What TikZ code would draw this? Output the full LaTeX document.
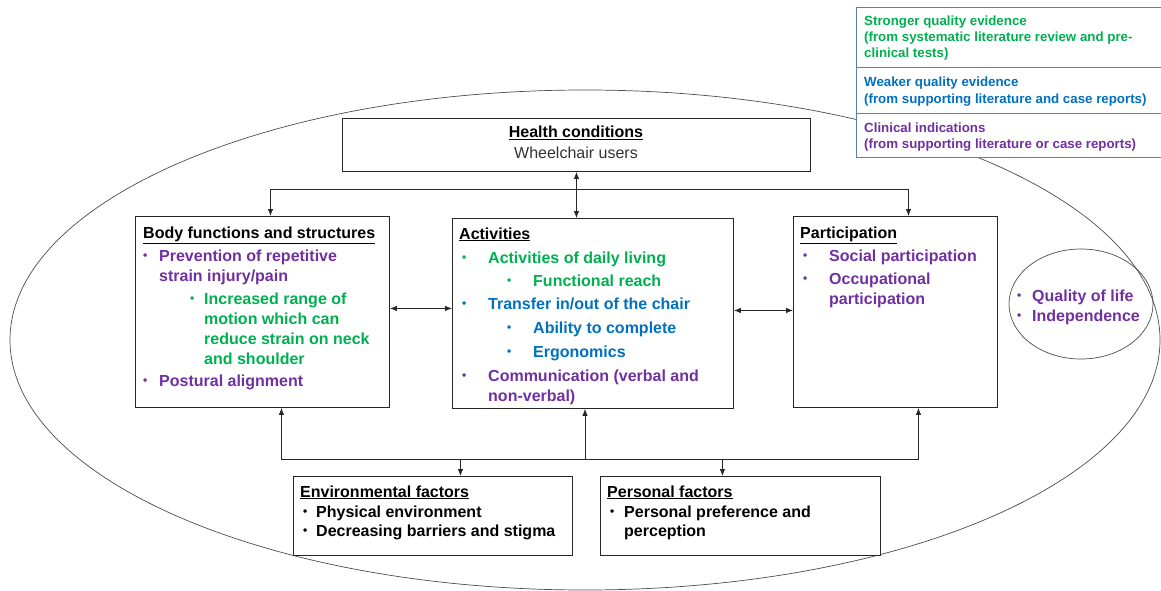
\documentclass[tikz,border=0pt]{standalone}
\usepackage{fontspec}
\setmainfont{Liberation Sans}
\usepackage{tikz}
\usetikzlibrary{arrows.meta,shapes,positioning}
\definecolor{sgreen}{RGB}{0,176,80}
\definecolor{wblue}{RGB}{0,112,192}
\definecolor{cpurple}{RGB}{112,48,160}
\definecolor{lframe}{RGB}{84,130,184}
\tikzset{box/.style={draw=black!85, line width=0.9pt, fill=white, anchor=north west, inner sep=0},
  t/.style={anchor=base west, inner sep=0, font=\fontsize{16}{19}\selectfont\bfseries},
  bul/.style={anchor=base west, inner sep=0, yshift=1.5pt, font=\fontsize{12}{14}\selectfont\bfseries},
  lg/.style={draw=lframe, line width=0.9pt, fill=white, anchor=north west, inner sep=0, minimum width=312pt},
  lt/.style={anchor=base west, inner sep=0, font=\fontsize{13.3}{16}\selectfont\bfseries},
  ar/.style={draw=black!85, line width=0.8pt, -{Latex[length=7pt,width=5.5pt]}},
  dar/.style={ar, {Latex[length=7pt,width=5.5pt]}-{Latex[length=7pt,width=5.5pt]}}}

\begin{document}
\begin{tikzpicture}[x=1pt,y=-1pt]
    \useasboundingbox (0,0) rectangle (1161,591);
    \node[draw=black!70, line width=0.7pt, ellipse, minimum width=1150pt, minimum height=500pt] (icf) at (585,340) {};

    % legend
    \node[lg, minimum height=60pt] (lg1) at (856,7) {};
    \node[lg, minimum height=46pt] (lg2) at (856,67) {};
    \node[lg, minimum height=44pt] (lg3) at (856,113) {};
    \node[lt, sgreen] (l1) at (864,26) {Stronger quality evidence};
    \node[lt, sgreen] (l2) at (864,42) {(from systematic literature review and pre-};
    \node[lt, sgreen] (l3) at (864,58) {clinical tests)};
    \node[lt, wblue] (l4) at (864,87) {Weaker quality evidence};
    \node[lt, wblue] (l5) at (864,103) {(from supporting literature and case reports)};
    \node[lt, cpurple] (l6) at (864,132) {Clinical indications};
    \node[lt, cpurple] (l7) at (864,148) {(from supporting literature or case reports)};

    % boxes
    \node[box, minimum width=468pt, minimum height=53pt] (health) at (342,118) {};
    \node[box, minimum width=254pt, minimum height=191pt] (body) at (135,216) {};
    \node[box, minimum width=281pt, minimum height=190pt] (act) at (452,218) {};
    \node[box, minimum width=204pt, minimum height=191pt] (part) at (793,216) {};
    \node[box, minimum width=279pt, minimum height=79pt] (env) at (293,476) {};
    \node[box, minimum width=280pt, minimum height=79pt] (pers) at (600,476) {};
    \node[draw=black!70, line width=0.7pt, ellipse, minimum width=144pt, minimum height=110pt] (qol) at (1081,304) {};

    \node[t, anchor=base] (hc) at (576,138) {\underline{Health conditions}};
    \node[t, anchor=base, font=\fontsize{16}{19}\selectfont, black!80] (wu) at (576,158) {Wheelchair users};

    % body functions
    \node[t] (bt) at (143,238) {\underline{Body functions and structures}};
    \foreach \y in {261,386}
      \node[bul, cpurple] (bb\y) at (143,\y) {•};
    \node[bul, sgreen] (bs) at (190,304) {•};
    \node[t, cpurple] (b1) at (159,261) {Prevention of repetitive};
    \node[t, cpurple] (b2) at (159,281) {strain injury/pain};
    \node[t, sgreen] (b3) at (204,304) {Increased range of};
    \node[t, sgreen] (b4) at (204,324) {motion which can};
    \node[t, sgreen] (b5) at (204,344) {reduce strain on neck};
    \node[t, sgreen] (b6) at (204,364) {and shoulder};
    \node[t, cpurple] (b7) at (159,386) {Postural alignment};

    % activities
    \node[t] (at) at (459,239) {\underline{Activities}};
    \node[bul, sgreen] (ab1) at (462,263) {•};
    \node[bul, sgreen] (ab2) at (507,286) {•};
    \node[bul, wblue] (ab3) at (462,309) {•};
    \node[bul, wblue] (ab4) at (507,333) {•};
    \node[bul, wblue] (ab5) at (507,357) {•};
    \node[bul, cpurple] (ab6) at (462,381) {•};
    \node[t, sgreen] (a1) at (488,263) {Activities of daily living};
    \node[t, sgreen] (a2) at (533,286) {Functional reach};
    \node[t, wblue] (a3) at (488,309) {Transfer in/out of the chair};
    \node[t, wblue] (a4) at (533,333) {Ability to complete};
    \node[t, wblue] (a5) at (533,357) {Ergonomics};
    \node[t, cpurple] (a6) at (488,381) {Communication (verbal and};
    \node[t, cpurple] (a7) at (488,401) {non-verbal)};

    % participation
    \node[t] (pt) at (800,238) {\underline{Participation}};
    \foreach \y in {261,284}
      \node[bul, cpurple] (pb\y) at (803,\y) {•};
    \node[t, cpurple] (p1) at (829,261) {Social participation};
    \node[t, cpurple] (p2) at (829,284) {Occupational};
    \node[t, cpurple] (p3) at (829,304) {participation};

    % quality of life
    \foreach \y in {301,321}
      \node[bul, cpurple] (qb\y) at (1017,\y) {•};
    \node[t, cpurple] (q1) at (1032,301) {Quality of life};
    \node[t, cpurple] (q2) at (1032,321) {Independence};

    % environmental and personal
    \node[t] (et) at (300,497) {\underline{Environmental factors}};
    \node[t] (ett) at (607,497) {\underline{Personal factors}};
    \foreach \y in {517,536}
      \node[bul] (eb\y) at (303,\y) {•};
    \node[bul] (pfb) at (610,517) {•};
    \node[t] (e1) at (316,517) {Physical environment};
    \node[t] (e2) at (316,536) {Decreasing barriers and stigma};
    \node[t] (f1) at (624,517) {Personal preference and};
    \node[t] (f2) at (624,536) {perception};

    % connectors
    \draw[dar] (health.south) -- (health.south |- act.north);
    \coordinate (tb) at (576,189);
    \draw[ar] (tb) -| ([xshift=8pt]body.north);
    \draw[ar] (tb) -| ([xshift=13pt]part.north);
    \draw[dar] ([yshift=3.5pt]body.east) -- ([yshift=3.5pt]body.east -| act.west);
    \draw[dar] ([yshift=3pt]act.east) -- ([yshift=3pt]act.east -| part.west);
    \coordinate (bb) at (585,459);
    \draw[ar] (bb) -- (bb |- act.south);
    \draw[ar] (bb) -| ([xshift=19pt]body.south);
    \draw[ar] (bb) -| ([xshift=23pt]part.south);
    \draw[ar] (bb) -| ([xshift=27.5pt]env.north);
    \draw[ar] (bb) -| ([xshift=-18pt]pers.north);
\end{tikzpicture}
\end{document}
